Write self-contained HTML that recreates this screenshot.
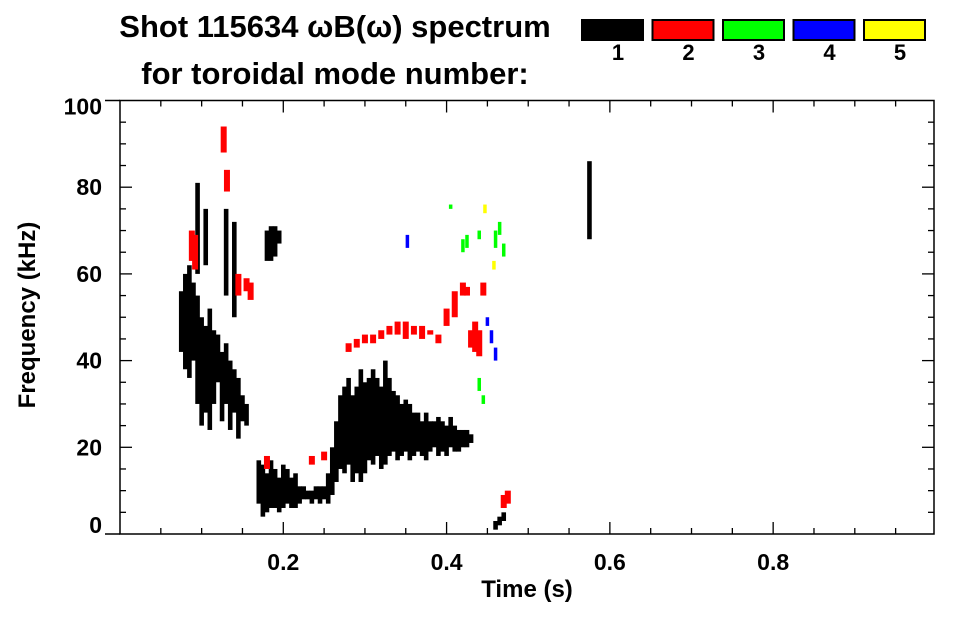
<!DOCTYPE html>
<html><head><meta charset="utf-8">
<style>
html,body{margin:0;padding:0;background:#fff;}
body{width:963px;height:615px;overflow:hidden;font-family:"Liberation Sans",sans-serif;}
svg text{font-family:"Liberation Sans",sans-serif;font-weight:bold;fill:#000;}
</style></head>
<body>
<svg id="chart" width="963" height="615" viewBox="0 0 963 615">
  <text x="335" y="37" font-size="31" text-anchor="middle">Shot 115634 ωB(ω) spectrum</text>
  <text x="335" y="84" font-size="31" text-anchor="middle">for toroidal mode number:</text>
  <g id="legend"></g>
  <g id="marks"></g>
  <g id="axes"></g>
  <text x="527" y="597" font-size="24" text-anchor="middle">Time (s)</text>
  <text transform="translate(35,315) rotate(-90)" font-size="24" text-anchor="middle">Frequency (kHz)</text>
</svg>
<script>
// ---- data ----
const modeLabels = ["1","2","3","4","5"];
const modeColors = ["#000000","#ff0000","#00ff00","#0000ff","#ffff00"];
const xTickValues = [0.2,0.4,0.6,0.8];
const xTickLabels = ["0.2","0.4","0.6","0.8"];
const yTickValues = [0,20,40,60,80,100];
const yTickLabels = ["0","20","40","60","80","100"];
// mode 1 (black) spectral features: time, low freq, high freq
const m1Time = [0.075,0.080,0.085,0.090,0.095,0.100,0.105,0.110,0.115,0.120,0.125,0.130,0.135,0.140,0.145,0.150,0.155,0.095,0.105,0.130,0.140,
 0.170,0.175,0.180,0.185,0.190,0.195,0.200,0.205,0.210,0.215,0.220,0.225,0.230,0.235,0.240,0.245,0.250,0.255,0.260,0.265,0.270,0.275,0.280,0.285,0.290,0.295,0.300,0.305,0.310,0.315,0.320,0.325,0.330,0.335,0.340,0.345,0.350,0.355,0.360,0.365,0.370,0.375,0.380,0.385,0.390,0.395,0.400,0.405,0.410,0.415,0.420,0.425,0.430,
 0.180,0.185,0.190,0.195,0.460,0.465,0.470,0.575];
const m1Lo = [42,38,36,40,30,25,28,24,30,35,26,30,24,28,22,26,25,60,62,55,50,
 7,4,5,6,6,5,6,7,6,6,7,8,8,7,8,7,8,7,9,12,15,14,16,12,14,12,14,17,16,18,15,16,18,19,17,18,19,17,18,19,18,17,19,20,18,19,18,20,19,19,20,20,21,
 63,63,64,67,1,2,3,68];
const m1Hi = [56,60,62,58,55,50,48,52,47,46,42,44,40,38,36,32,30,81,75,75,72,
 17,16,14,17,15,13,16,15,13,14,11,11,10,10,11,11,11,14,20,26,32,34,36,32,34,38,35,36,38,36,34,40,36,33,32,30,31,30,28,28,26,28,26,26,27,26,25,27,25,24,24,24,23,
 70,71,71,70,3,4,5,86];
// mode 2 (red)
const m2Time = [0.088,0.092,0.127,0.131,0.145,0.155,0.160,0.180,0.235,0.250,0.280,0.290,0.300,0.310,0.320,0.330,0.340,0.350,0.360,0.370,0.380,0.390,0.400,0.410,0.420,0.425,0.430,0.435,0.440,0.445,0.470,0.475];
const m2Lo = [63,61,88,79,55,56,54,15,16,17,42,43,44,44,45,46,46,45,46,45,46,44,48,50,55,55,43,42,41,55,6,7];
const m2Hi = [70,69,94,84,60,59,58,18,18,19,44,45,46,46,47,48,49,49,48,48,47,46,52,56,58,57,47,49,47,58,9,10];
// mode 3 (green)
const m3Time = [0.405,0.420,0.425,0.440,0.460,0.465,0.470,0.440,0.445];
const m3Lo = [75,65,66,68,66,69,64,33,30];
const m3Hi = [76,68,69,70,70,72,67,36,32];
// mode 4 (blue)
const m4Time = [0.352,0.450,0.455,0.460];
const m4Lo = [66,48,44,40];
const m4Hi = [69,50,47,43];
// mode 5 (yellow)
const m5Time = [0.447,0.458];
const m5Lo = [74,61];
const m5Hi = [76,63];

// ---- scales ----
const X0=120, X1=934, Y0=534, Y1=100.5;
const xScale = t => X0 + (t-0)/(0.997-0)*(X1-X0);
const yScale = f => Y0 - (f/100)*(Y0-Y1);
const NS="http://www.w3.org/2000/svg";
function mk(tag, attrs, parent){const e=document.createElementNS(NS,tag);for(const k in attrs)e.setAttribute(k,attrs[k]);parent.appendChild(e);return e;}

// ---- legend ----
const legend=document.getElementById('legend');
modeLabels.forEach((lab,i)=>{
  const x=582+i*70.5;
  const r=mk('rect',{x:x,y:20,width:61,height:20,fill:modeColors[i],stroke:'#000','stroke-width':2},legend);
  
  
  const t=mk('text',{x:x+36,y:60,'font-size':22,'text-anchor':'middle'},legend);
  t.textContent=lab;
  
  
});

// ---- marks ----
const marks=document.getElementById('marks');
const series=[[m1Time,m1Lo,m1Hi],[m2Time,m2Lo,m2Hi],[m3Time,m3Lo,m3Hi],[m4Time,m4Lo,m4Hi],[m5Time,m5Lo,m5Hi]];
series.forEach((s,mi)=>{
  const [ts,lo,hi]=s;
  ts.forEach((t,j)=>{
    const x=xScale(t), ya=yScale(hi[j]), yb=yScale(lo[j]);
    const w=(mi===0)?4.6:(mi===1?6:3.5);
    const r=mk('rect',{x:x-w/2,y:ya,width:w,height:Math.max(1.5,yb-ya),fill:modeColors[mi]},marks);
    
    
  });
});

// ---- axes ----
const axes=document.getElementById('axes');
const frame=mk('rect',{x:X0,y:Y1,width:X1-X0,height:Y0-Y1,fill:'none',stroke:'#000','stroke-width':1.5},axes);


for(let k=1;k<20;k++){
  const v=k*0.05, x=xScale(v), len=(k%4===0)?12:6;
  mk('line',{x1:x,y1:Y0,x2:x,y2:Y0-len,stroke:'#000','stroke-width':1.3},axes);
  mk('line',{x1:x,y1:Y1,x2:x,y2:Y1+len,stroke:'#000','stroke-width':1.3},axes);
}
for(let k=1;k<20;k++){
  const v=k*5, y=yScale(v), len=(k%4===0)?12:6;
  mk('line',{x1:X0,y1:y,x2:X0+len,y2:y,stroke:'#000','stroke-width':1.3},axes);
  mk('line',{x1:X1,y1:y,x2:X1-len,y2:y,stroke:'#000','stroke-width':1.3},axes);
}
mk('line',{x1:X0-15,y1:Y0,x2:X0,y2:Y0,stroke:'#000','stroke-width':1.5},axes);
mk('line',{x1:X0-15,y1:Y1,x2:X0,y2:Y1,stroke:'#000','stroke-width':1.5},axes);
xTickValues.forEach((v,i)=>{
  const t=mk('text',{x:xScale(v),y:570,'font-size':23,'text-anchor':'middle'},axes);
  t.textContent=xTickLabels[i];
  
  
});
yTickValues.forEach((v,i)=>{
  let dy=8;
  if(i===0) dy=-1;
  if(i===yTickValues.length-1) dy=14;
  const t=mk('text',{x:102,y:yScale(v)+dy,'font-size':23,'text-anchor':'end'},axes);
  t.textContent=yTickLabels[i];
  
  
});
</script>
</body></html>
